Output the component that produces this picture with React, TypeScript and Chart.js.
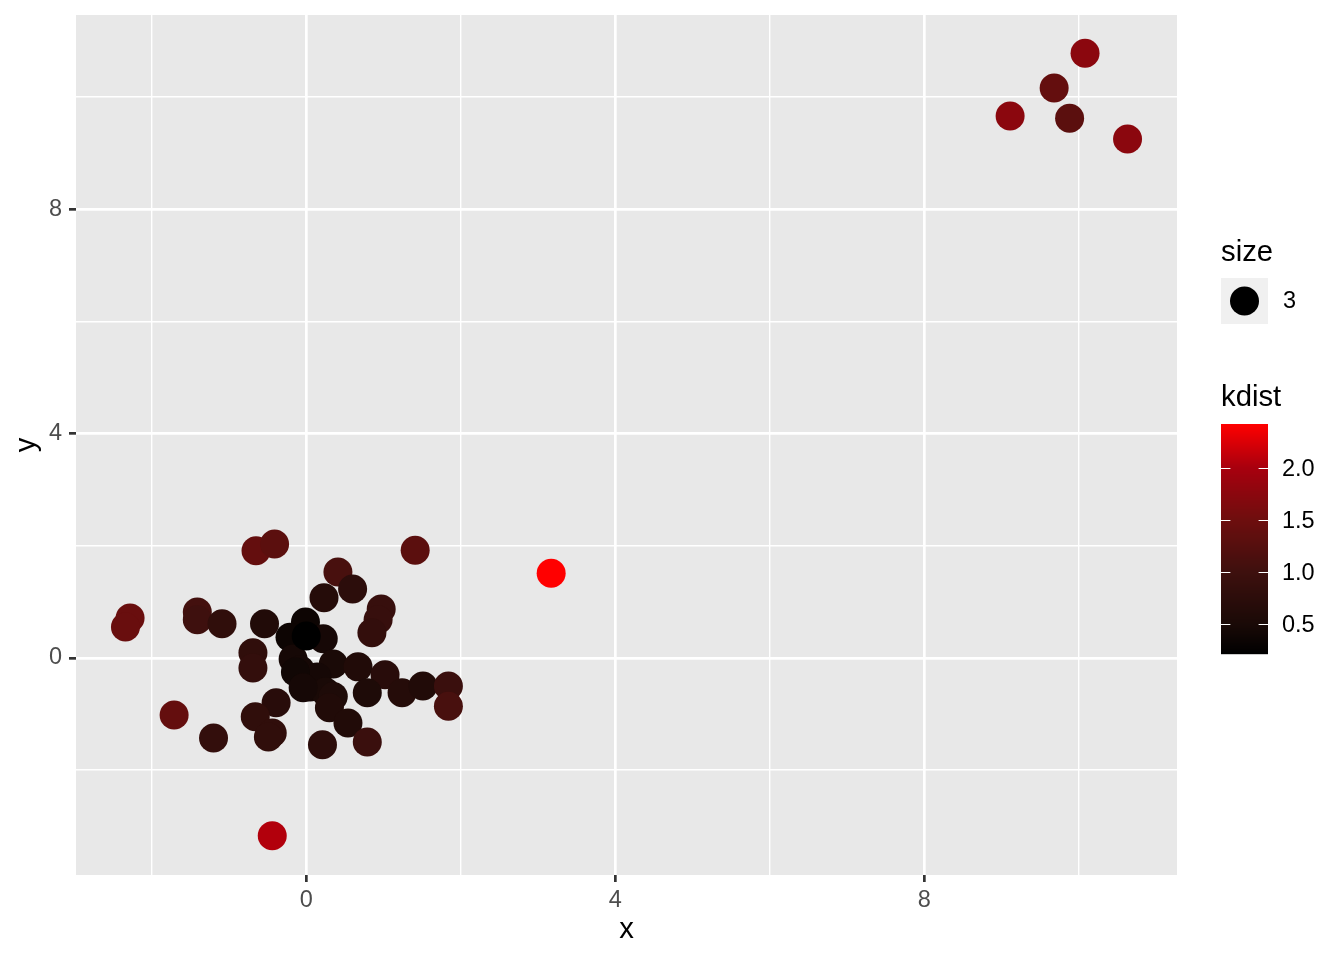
import React, { useEffect, useRef } from "react";
import { Chart, registerables } from "chart.js";

Chart.register(...registerables);

const xValues = [10.08, 9.68, 9.11, 9.88, 10.63, 3.17, -0.44, -1.71, -2.28, -2.34, -0.65, -0.41, 1.41, 0.41, 0.6, 0.23, -1.41, -1.41, -1.09, -0.54, -0.01, -0.21, 0.22, 0.97, 0.93, 0.85, -0.69, -0.69, -0.17, -0.08, 0.35, 0.67, 1.02, 0.79, 1.24, 1.51, 1.84, 1.84, 0.05, 0.14, 0.25, 0.35, 0.3, 0.54, 0.79, 0.21, -0.39, -0.66, -0.44, -0.49, -1.2, -0.14, -0.04, 0.0];
const yValues = [10.78, 10.16, 9.66, 9.62, 9.25, 1.51, -3.17, -1.02, 0.71, 0.55, 1.91, 2.03, 1.92, 1.53, 1.23, 1.07, 0.82, 0.68, 0.61, 0.61, 0.64, 0.37, 0.34, 0.87, 0.68, 0.45, 0.09, -0.18, -0.02, -0.21, -0.11, -0.16, -0.3, -0.62, -0.62, -0.5, -0.5, -0.86, -0.52, -0.34, -0.61, -0.69, -0.89, -1.16, -1.5, -1.55, -0.8, -1.05, -1.34, -1.41, -1.43, -0.25, -0.53, 0.39];
const kdistValues = [1.75, 1.4, 1.75, 1.3, 1.75, 2.42, 2.05, 1.4, 1.45, 1.45, 1.4, 1.3, 1.3, 1.1, 0.75, 0.65, 1.05, 1.0, 0.8, 0.6, 0.35, 0.35, 0.45, 0.9, 0.9, 0.85, 0.8, 0.85, 0.45, 0.45, 0.5, 0.6, 0.7, 0.55, 0.65, 0.6, 0.95, 1.1, 0.45, 0.45, 0.5, 0.55, 0.6, 0.6, 0.95, 0.75, 0.7, 0.8, 0.8, 0.8, 0.85, 0.4, 0.45, 0.21];

const xTicks = [-2, 0, 2, 4, 6, 8, 10];
const yTicks = [-2, 0, 2, 4, 6, 8, 10];
const majorTicks = [0, 4, 8];
const kdistTicks = [0.5, 1.0, 1.5, 2.0];
const kdistMin = 0.21;
const kdistMax = 2.42;
const sizeLabel = "3";

// colour ramp stops (value -> rgb)
const rampValues = [0.21, 0.5, 1.0, 1.5, 2.0, 2.42];
const rampColors = [
  [0, 0, 0],
  [26, 10, 7],
  [62, 16, 14],
  [110, 14, 14],
  [168, 0, 14],
  [255, 0, 0],
];

function kdistColor(v: number) {
  const c = Math.max(kdistMin, Math.min(kdistMax, v));
  let i = 0;
  while (i < rampValues.length - 2 && c > rampValues[i + 1]) i++;
  const t = (c - rampValues[i]) / (rampValues[i + 1] - rampValues[i]);
  const a = rampColors[i], b = rampColors[i + 1];
  const r = Math.round(a[0] + (b[0] - a[0]) * t);
  const g = Math.round(a[1] + (b[1] - a[1]) * t);
  const bb = Math.round(a[2] + (b[2] - a[2]) * t);
  return `rgb(${r},${g},${bb})`;
}

const FONT = "'Liberation Sans', Arial, Helvetica, sans-serif";
const TICK_PX = 23.5;
const TITLE_PX = 29.3;

const panelBg = {
  id: "panelBg",
  beforeDraw(chart: any) {
    const { ctx, chartArea } = chart;
    ctx.save();
    ctx.fillStyle = "#E8E8E8";
    ctx.fillRect(chartArea.left, chartArea.top, chartArea.right - chartArea.left, chartArea.bottom - chartArea.top);
    ctx.restore();
  },
};

const legendPlugin = {
  id: "ggLegend",
  afterDraw(chart: any) {
    const { ctx } = chart;
    ctx.save();
    const lx = 1221;
    // size legend
    ctx.fillStyle = "#000";
    ctx.font = `${TITLE_PX}px ${FONT}`;
    ctx.textAlign = "left";
    ctx.textBaseline = "alphabetic";
    ctx.fillText("size", lx, 261);
    ctx.fillStyle = "#F0F0F0";
    ctx.fillRect(lx, 278, 47, 46);
    ctx.fillStyle = "#000";
    ctx.beginPath();
    ctx.arc(lx + 23.5, 301, 14.5, 0, Math.PI * 2);
    ctx.fill();
    ctx.font = `${TICK_PX}px ${FONT}`;
    ctx.textBaseline = "middle";
    ctx.fillText(sizeLabel, 1283, 302);
    // kdist legend
    ctx.font = `${TITLE_PX}px ${FONT}`;
    ctx.textBaseline = "alphabetic";
    ctx.fillText("kdist", lx, 406);
    const top = 424, bottom = 654, w = 47;
    const h = bottom - top;
    for (let i = 0; i < h; i++) {
      const v = kdistMax - (i + 0.5) / h * (kdistMax - kdistMin);
      ctx.fillStyle = kdistColor(v);
      ctx.fillRect(lx, top + i, w, 1.2);
    }
    ctx.strokeStyle = "#FFFFFF";
    ctx.lineWidth = 1;
    ctx.font = `${TICK_PX}px ${FONT}`;
    ctx.textBaseline = "middle";
    for (const t of kdistTicks) {
      const y = Math.round(bottom - (t - kdistMin) / (kdistMax - kdistMin) * h) + 0.5;
      ctx.beginPath();
      ctx.moveTo(lx, y);
      ctx.lineTo(lx + 9.4, y);
      ctx.moveTo(lx + w - 9.4, y);
      ctx.lineTo(lx + w, y);
      ctx.stroke();
      ctx.fillStyle = "#000";
      ctx.fillText(t.toFixed(1), 1282, y + 1);
    }
    ctx.restore();
  },
};

function App() {
  const ref = useRef<HTMLCanvasElement>(null);
  useEffect(() => {
    document.body.style.margin = "0";
    const data = xValues.map((x, i) => ({ x, y: yValues[i] }));
    const isMajor = (ctx: any) => ctx.tick && majorTicks.includes(ctx.tick.value);
    const gridCommon = {
      color: "#FFFFFF",
      lineWidth: (ctx: any) => (isMajor(ctx) ? 2.7 : 1.4),
      tickColor: (ctx: any) => (isMajor(ctx) ? "#333333" : "rgba(0,0,0,0)"),
      tickWidth: 2.7,
      tickLength: 7,
      drawTicks: true,
    };
    const chart = new Chart(ref.current!, {
      type: "scatter",
      data: {
        datasets: [
          {
            data,
            pointRadius: 14.5,
            pointHoverRadius: 14.5,
            borderWidth: 0,
            pointBorderWidth: 0,
            backgroundColor: kdistValues.map((k) => kdistColor(k)),
            pointBackgroundColor: kdistValues.map((k) => kdistColor(k)),
          },
        ],
      },
      options: {
        responsive: false,
        animation: false,
        devicePixelRatio: 1,
        layout: { padding: { left: 9, top: 15, right: 167, bottom: 13 } },
        plugins: { legend: { display: false }, tooltip: { enabled: false } },
        scales: {
          x: {
            type: "linear",
            min: -2.98,
            max: 11.27,
            afterBuildTicks: (s: any) => {
              s.ticks = xTicks.map((v) => ({ value: v }));
            },
            afterFit: (s: any) => {
              s.height = 72;
              s.paddingLeft = 0;
              s.paddingRight = 0;
            },
            ticks: {
              autoSkip: false,
              maxRotation: 0,
              padding: 4,
              color: "#4D4D4D",
              font: { family: FONT, size: TICK_PX },
              callback: (v: any) => (majorTicks.includes(v) ? String(v) : ""),
            },
            grid: gridCommon,
            border: { display: false },
            title: { display: true, text: "x", color: "#000", font: { family: FONT, size: TITLE_PX }, padding: 0 },
          },
          y: {
            type: "linear",
            min: -3.87,
            max: 11.46,
            afterBuildTicks: (s: any) => {
              s.ticks = yTicks.map((v) => ({ value: v }));
            },
            afterFit: (s: any) => {
              s.width = 67;
              s.paddingTop = 0;
              s.paddingBottom = 0;
            },
            ticks: {
              autoSkip: false,
              padding: 7,
              color: "#4D4D4D",
              font: { family: FONT, size: TICK_PX },
              callback: (v: any) => (majorTicks.includes(v) ? String(v) : ""),
            },
            grid: gridCommon,
            border: { display: false },
            title: { display: true, text: "y", color: "#000", font: { family: FONT, size: TITLE_PX }, padding: 0 },
          },
        },
      },
      plugins: [panelBg, legendPlugin],
    } as any);
    return () => chart.destroy();
  }, []);
  return (
    <div style={{ position: "absolute", left: 0, top: 0, width: 1344, height: 960, background: "#FFFFFF" }}>
      <canvas ref={ref} width={1344} height={960} style={{ width: 1344, height: 960 }} />
    </div>
  );
}

export default App;
